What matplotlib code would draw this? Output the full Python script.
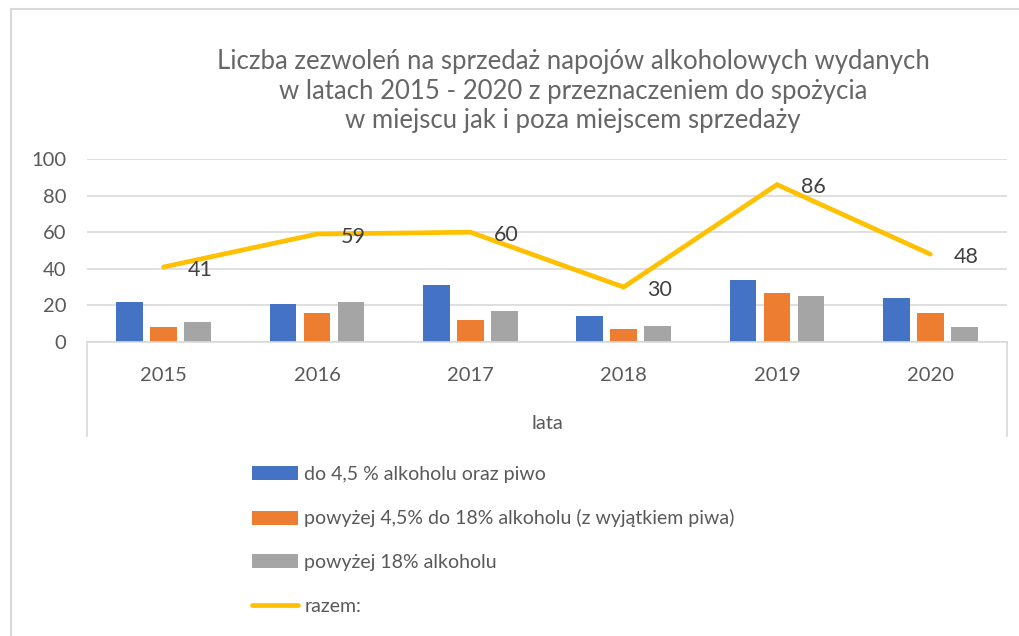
import numpy as np
import matplotlib.pyplot as plt
from matplotlib.lines import Line2D

plt.rcParams['font.family'] = ['Lato', 'DejaVu Sans']

# ---------- Data ----------
years = ['2015', '2016', '2017', '2018', '2019', '2020']
do_45 = [22, 21, 31, 14, 34, 24]
od_45_do_18 = [8, 16, 12, 7, 27, 16]
pow_18 = [11, 22, 17, 9, 25, 8]
razem = [41, 59, 60, 30, 86, 48]

labels = ['do 4,5 % alkoholu oraz piwo',
          'powyżej 4,5% do 18% alkoholu (z wyjątkiem piwa)',
          'powyżej 18% alkoholu',
          'razem:']
colors = ['#4472C4', '#ED7D31', '#A5A5A5', '#FFC000']
txt = '#595959'

W, H = 1019, 636
fig = plt.figure(figsize=(W / 100, H / 100), dpi=100)

# chart area frame (only top and left edges are visible)
fig.add_artist(Line2D([11 / W, 1], [1 - 9 / H, 1 - 9 / H], color='#D9D9D9', lw=1.5))
fig.add_artist(Line2D([11 / W, 11 / W], [0, 1 - 9 / H], color='#D9D9D9', lw=1.5))

ax = fig.add_axes([87 / W, 1 - 342 / H, (1007 - 87) / W, (342 - 159) / H])

x = np.arange(len(years))
bw = 0.174
step = 0.222
b1 = ax.bar(x - step, do_45, bw, color=colors[0], label=labels[0], zorder=2)
b2 = ax.bar(x, od_45_do_18, bw, color=colors[1], label=labels[1], zorder=2)
b3 = ax.bar(x + step, pow_18, bw, color=colors[2], label=labels[2], zorder=2)
ln, = ax.plot(x, razem, color=colors[3], lw=3.4, solid_capstyle='round',
              solid_joinstyle='miter', label=labels[3], zorder=3)

for xi, v in zip(x, razem):
    ax.annotate(str(v), (xi, v), xytext=(17, -2), textcoords='offset points',
                ha='left', va='center', fontsize=15.5, color='#404040', zorder=4)

ax.set_xlim(-0.5, len(years) - 0.5)
ax.set_ylim(0, 100)
ax.set_yticks(range(0, 101, 20))
ax.set_xticks(x)
ax.set_xticklabels(years)
ax.yaxis.grid(True, color='#D9D9D9', lw=1.2, zorder=0)
for s in ['top', 'right', 'left']:
    ax.spines[s].set_visible(False)
ax.spines['bottom'].set_color('#D9D9D9')
ax.spines['bottom'].set_linewidth(1.2)
ax.tick_params(axis='y', length=0, pad=15, labelsize=14.5, labelcolor=txt)
ax.tick_params(axis='x', length=0, pad=18, labelsize=14.5, labelcolor=txt)
ax.set_xlabel('lata', fontsize=14.5, color=txt, labelpad=22)

# vertical edge lines under the category axis
for xe in (0, 1):
    ax.add_artist(Line2D([xe, xe], [0, -94 / 183], transform=ax.transAxes,
                         color='#D9D9D9', lw=1.2, clip_on=False))

fig.text(573 / W, 1 - 91 / H,
         'Liczba zezwoleń na sprzedaż napojów alkoholowych wydanych\n'
         'w latach 2015 - 2020 z przeznaczeniem do spożycia\n'
         'w miejscu jak i poza miejscem sprzedaży',
         ha='center', va='center', fontsize=18.5, color='#666666',
         linespacing=1.22)

fig.legend([b1, b2, b3, ln], labels, loc='upper left',
           bbox_to_anchor=(244 / W, 1 - 458 / H),
           frameon=False, fontsize=14, labelcolor=txt, handlelength=2.4,
           handleheight=0.75, handletextpad=0.3, labelspacing=1.37,
           borderaxespad=0)

fig.savefig('out.png', dpi=100)
